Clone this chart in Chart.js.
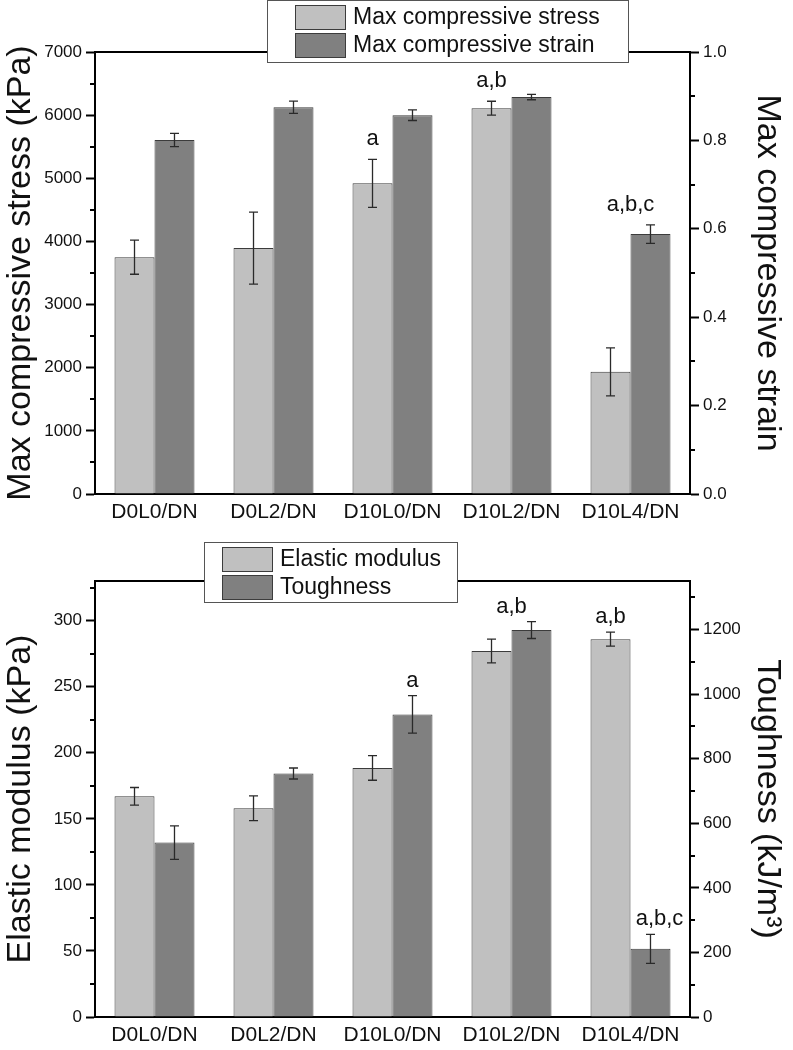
<!DOCTYPE html>
<html>
<head>
<meta charset="utf-8">
<script src="https://cdn.jsdelivr.net/npm/chart.js@4.4.1/dist/chart.umd.min.js"></script>
<style>
  body { margin: 0; background: #fff; }
  .box { position: absolute; left: 0; width: 793px; height: 525px; }
</style>
</head>
<body>
<div class="box" style="top:0"><canvas id="chartStress" width="793" height="525"></canvas></div>
<div class="box" style="top:525px"><canvas id="chartModulus" width="793" height="525"></canvas></div>
<script>
const categories = ['D0L0/DN', 'D0L2/DN', 'D10L0/DN', 'D10L2/DN', 'D10L4/DN'];

// top panel
const stressData = [3750, 3895, 4920, 6110, 1935];
const stressErr = [270, 570, 380, 110, 380];
const strainData = [0.801, 0.875, 0.857, 0.898, 0.588];
const strainErr = [0.015, 0.014, 0.012, 0.006, 0.021];

// bottom panel
const modulusData = [167, 158, 188.5, 277, 286];
const modulusErr = [6.7, 9.3, 9.3, 9, 5.3];
const toughData = [540, 754, 937, 1198, 211];
const toughErr = [52, 17, 58, 26, 45];

// significance letters
const topLetters = [
    { index: 2, dataset: 0, text: 'a' },
    { index: 3, dataset: 0, text: 'a,b' },
    { index: 4, dataset: 1, text: 'a,b,c', group: true }
];
const bottomLetters = [
    { index: 2, dataset: 1, text: 'a' },
    { index: 3, dataset: 1, text: 'a,b', group: true },
    { index: 4, dataset: 0, text: 'a,b' },
    { index: 4, dataset: 1, text: 'a,b,c', shift: 9 }
];

const LIGHT = '#c0c0c0', DARK = '#808080', EDGE = '#3c3c3c', INK = '#111';
Chart.defaults.font.family = '"Liberation Sans", Arial, sans-serif';
Chart.defaults.color = INK;

// plugin built per chart so the settings are not run through the option resolver
function makeDecor(cfg) {
    return {
        id: 'decor',
        afterDatasetsDraw(chart) {
            const ctx = chart.ctx;
            ctx.save();
            // error bars
            ctx.strokeStyle = '#2a2a2a';
            ctx.lineWidth = 1.3;
            chart.data.datasets.forEach((ds, di) => {
                const meta = chart.getDatasetMeta(di);
                const ys = chart.scales[ds.yAxisID];
                meta.data.forEach((bar, i) => {
                    const v = ds.data[i], e = ds.errors[i];
                    const top = ys.getPixelForValue(v + e), bot = ys.getPixelForValue(v - e);
                    ctx.beginPath();
                    ctx.moveTo(bar.x, top); ctx.lineTo(bar.x, bot);
                    ctx.moveTo(bar.x - 4.5, top); ctx.lineTo(bar.x + 4.5, top);
                    ctx.moveTo(bar.x - 4.5, bot); ctx.lineTo(bar.x + 4.5, bot);
                    ctx.stroke();
                });
            });
            // letters
            ctx.fillStyle = INK;
            ctx.font = '22px "Liberation Sans", Arial, sans-serif';
            ctx.textAlign = 'center';
            ctx.textBaseline = 'middle';
            cfg.letters.forEach(l => {
                const ds = chart.data.datasets[l.dataset];
                const ys = chart.scales[ds.yAxisID];
                let x = chart.getDatasetMeta(l.dataset).data[l.index].x;
                if (l.group) {
                    x = (chart.getDatasetMeta(0).data[l.index].x + chart.getDatasetMeta(1).data[l.index].x) / 2;
                }
                x += (l.shift || 0);
                const y = ys.getPixelForValue(ds.data[l.index] + ds.errors[l.index]) - cfg.letterGap;
                ctx.fillText(l.text, x, y);
            });
            ctx.restore();
        },
        afterDraw(chart) {
            const ctx = chart.ctx;
            const a = chart.chartArea;
            ctx.save();
            // frame top
            ctx.strokeStyle = '#000';
            ctx.lineWidth = 2;
            ctx.beginPath();
            ctx.moveTo(a.left, a.top); ctx.lineTo(a.right, a.top);
            ctx.stroke();
            // minor ticks
            ['y', 'y1'].forEach(id => {
                const s = chart.scales[id];
                const step = cfg.minor[id];
                const x = id === 'y' ? a.left : a.right;
                const dir = id === 'y' ? -1 : 1;
                for (let k = 1; k * step < s.max + 1e-9; k += 2) {
                    const py = Math.round(s.getPixelForValue(k * step));
                    ctx.beginPath();
                    ctx.moveTo(x, py); ctx.lineTo(x + dir * 5, py);
                    ctx.stroke();
                }
            });
            // legend
            const L = cfg.legend;
            ctx.fillStyle = '#fff';
            ctx.fillRect(L.left, L.top, L.width, L.height);
            ctx.strokeStyle = '#555';
            ctx.lineWidth = 1;
            ctx.strokeRect(L.left + 0.5, L.top + 0.5, L.width, L.height);
            ctx.font = '23px "Liberation Sans", Arial, sans-serif';
            ctx.textAlign = 'left';
            ctx.textBaseline = 'middle';
            chart.data.datasets.forEach((ds, di) => {
                const sy = L.top + 5 + di * 28;
                ctx.fillStyle = ds.backgroundColor;
                ctx.fillRect(L.swatchLeft, sy, 50, 24);
                ctx.strokeStyle = EDGE;
                ctx.strokeRect(L.swatchLeft + 0.5, sy + 0.5, 50, 24);
                ctx.fillStyle = INK;
                ctx.fillText(ds.label, L.swatchLeft + 58, sy + 13);
            });
            ctx.restore();
        }
    };
}

function yAxis(pos, min, max, step, title, width, titlePad, fmt) {
    return {
        position: pos,
        min: min, max: max,
        afterFit: s => { s.width = width; },
        border: { display: true, color: '#000', width: 2 },
        grid: { drawOnChartArea: false, tickLength: 9, tickWidth: 2, tickColor: '#000' },
        ticks: { stepSize: step, includeBounds: false, padding: 4, font: { size: 17 }, color: INK,
                 callback: fmt || (v => v) },
        title: { display: true, text: title, font: { size: 34 }, padding: { top: titlePad, bottom: 0 }, color: INK }
    };
}

function makeChart(id, sets, axes, decorCfg, top, xh) {
    return new Chart(document.getElementById(id).getContext('2d'), {
        type: 'bar',
        data: {
            labels: categories,
            datasets: sets.map((s, i) => ({
                label: s.label,
                data: s.data,
                errors: s.errors,
                yAxisID: i === 0 ? 'y' : 'y1',
                backgroundColor: i === 0 ? LIGHT : DARK,
                borderColor: EDGE,
                borderWidth: 1,
                categoryPercentage: 0.672,
                barPercentage: 1.0
            }))
        },
        options: {
            responsive: false,
            animation: false,
            layout: { padding: { top: top, left: 0, right: 0, bottom: 0 } },
            plugins: {
                legend: { display: false },
                tooltip: { enabled: false }
            },
            scales: {
                x: {
                    afterFit: s => { s.height = xh; },
                    border: { display: true, color: '#000', width: 2 },
                    grid: { display: false, drawTicks: false },
                    ticks: { padding: 6, font: { size: 21 }, color: INK, maxRotation: 0 }
                },
                y: axes[0],
                y1: axes[1]
            }
        },
        plugins: [makeDecor(decorCfg)]
    });
}

const chartStress = makeChart('chartStress',
    [
        { label: 'Max compressive stress', data: stressData, errors: stressErr },
        { label: 'Max compressive strain', data: strainData, errors: strainErr }
    ],
    [
        yAxis('left', 0, 7000, 1000, 'Max compressive stress (kPa)', 95, 0),
        yAxis('right', 0, 1, 0.2, 'Max compressive strain', 103, 5, v => v.toFixed(1))
    ],
    {
        letters: topLetters, letterGap: 20, minor: { y: 500, y1: 0.1 },
        legend: { left: 267, top: 0, width: 361, height: 62, swatchLeft: 295 }
    },
    52, 31);

const chartModulus = makeChart('chartModulus',
    [
        { label: 'Elastic modulus', data: modulusData, errors: modulusErr },
        { label: 'Toughness', data: toughData, errors: toughErr }
    ],
    [
        yAxis('left', 0, 330, 50, 'Elastic modulus (kPa)', 95, 0),
        yAxis('right', 0, 1350, 200, 'Toughness (kJ/m³)', 103, 5)
    ],
    {
        letters: bottomLetters, letterGap: 15, minor: { y: 25, y1: 100 },
        legend: { left: 204, top: 17, width: 253, height: 60, swatchLeft: 222 }
    },
    56, 33);
</script>
</body>
</html>
